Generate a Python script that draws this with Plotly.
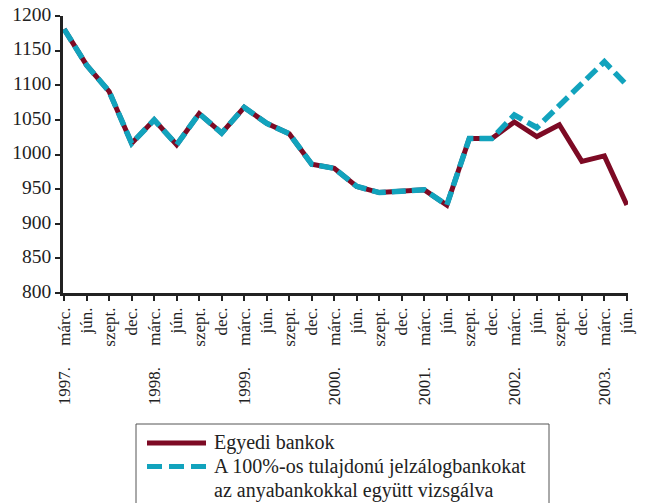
import plotly.graph_objects as go

months = ["márc.", "jún.", "szept.", "dec."]
years = ["1997.", "1998.", "1999.", "2000.", "2001.", "2002.", "2003."]
tick_labels = []
for y in years:
    for m in months:
        if m == "márc.":
            tick_labels.append(y + "\u00a0" * 5 + m)
        else:
            tick_labels.append(m)
tick_labels = tick_labels[:26]

egyedi = [1181, 1129, 1091, 1016, 1050, 1014, 1059, 1031, 1068, 1045, 1030, 986,
          980, 954, 945, 947, 949, 927, 1023, 1023, 1047, 1026, 1043, 990, 998, 927]
konszolidalt = [1181, 1129, 1091, 1016, 1050, 1014, 1059, 1031, 1068, 1045, 1030, 986,
                980, 954, 945, 947, 949, 927, 1023, 1023, 1057, 1039, 1071, 1101, 1134, 1100]

legend_lines = ["Egyedi bankok",
                "A 100%-os tulajdonú jelzálogbankokat",
                "az anyabankokkal együtt vizsgálva"]

RED = "#7d0a24"
BLUE = "#12a3bd"
INK = "#222"
font_family = "'Liberation Serif', 'Times New Roman', Times, serif"

x = list(range(len(egyedi)))

fig = go.Figure()
fig.add_trace(go.Scatter(x=x, y=egyedi, mode="lines", name=legend_lines[0],
                         line=dict(color=RED, width=5)))
fig.add_trace(go.Scatter(x=x, y=konszolidalt, mode="lines",
                         name=legend_lines[1] + "<br>" + legend_lines[2],
                         line=dict(color=BLUE, width=5.5, dash="14px,6px")))

W, H = 649, 503
ml, mr, mt, mb = 63, 21, 16, 210
pw = W - ml - mr
ph = H - mt - mb


def px(xp):
    return (xp - ml) / pw


def py(yp):
    return (H - mb - yp) / ph


shapes = [
    dict(type="rect", xref="paper", yref="paper",
         x0=px(136), x1=px(549), y0=py(540), y1=py(424),
         line=dict(color="#555", width=1), fillcolor="rgba(0,0,0,0)"),
    dict(type="line", xref="paper", yref="paper",
         x0=px(147), x1=px(206), y0=py(443), y1=py(443),
         line=dict(color=RED, width=5)),
    dict(type="line", xref="paper", yref="paper",
         x0=px(147), x1=px(206), y0=py(466.5), y1=py(466.5),
         line=dict(color=BLUE, width=5, dash="15px,7px")),
]
annotations = []
for i, t in enumerate(legend_lines):
    annotations.append(dict(
        xref="paper", yref="paper", x=px(212), y=py(442.5 + 24 * i),
        xanchor="left", yanchor="middle", showarrow=False, text=t,
        font=dict(family=font_family, size=20, color=INK)))

fig.update_layout(
    template="none",
    width=W, height=H,
    margin=dict(l=ml, r=mr, t=mt, b=mb, autoexpand=False),
    paper_bgcolor="white", plot_bgcolor="white",
    font=dict(family=font_family, color=INK, size=18),
    showlegend=False,
    hovermode=False,
    shapes=shapes,
    annotations=annotations,
    xaxis=dict(
        range=[-0.05, 25.05], automargin=False, ticklabeloverflow="allow",
        tickmode="array", tickvals=x, ticktext=tick_labels,
        tickangle=-90, ticks="outside", ticklen=5, tickwidth=2, tickcolor=INK,
        showline=True, linecolor=INK, linewidth=2.5,
        showgrid=False, zeroline=False,
        tickfont=dict(family=font_family, size=17, color=INK),
    ),
    yaxis=dict(
        range=[800, 1200], dtick=50, tick0=800, automargin=False,
        ticklabeloverflow="allow", ticklabelshift=-2,
        ticks="outside", ticklen=5, tickwidth=2, tickcolor=INK,
        showline=True, linecolor=INK, linewidth=2.5,
        showgrid=False, zeroline=False,
        tickfont=dict(family=font_family, size=19.5, color=INK),
    ),
)

fig.write_html("out.html", config={"displayModeBar": False},
               post_script="document.body.style.margin='0px';")
